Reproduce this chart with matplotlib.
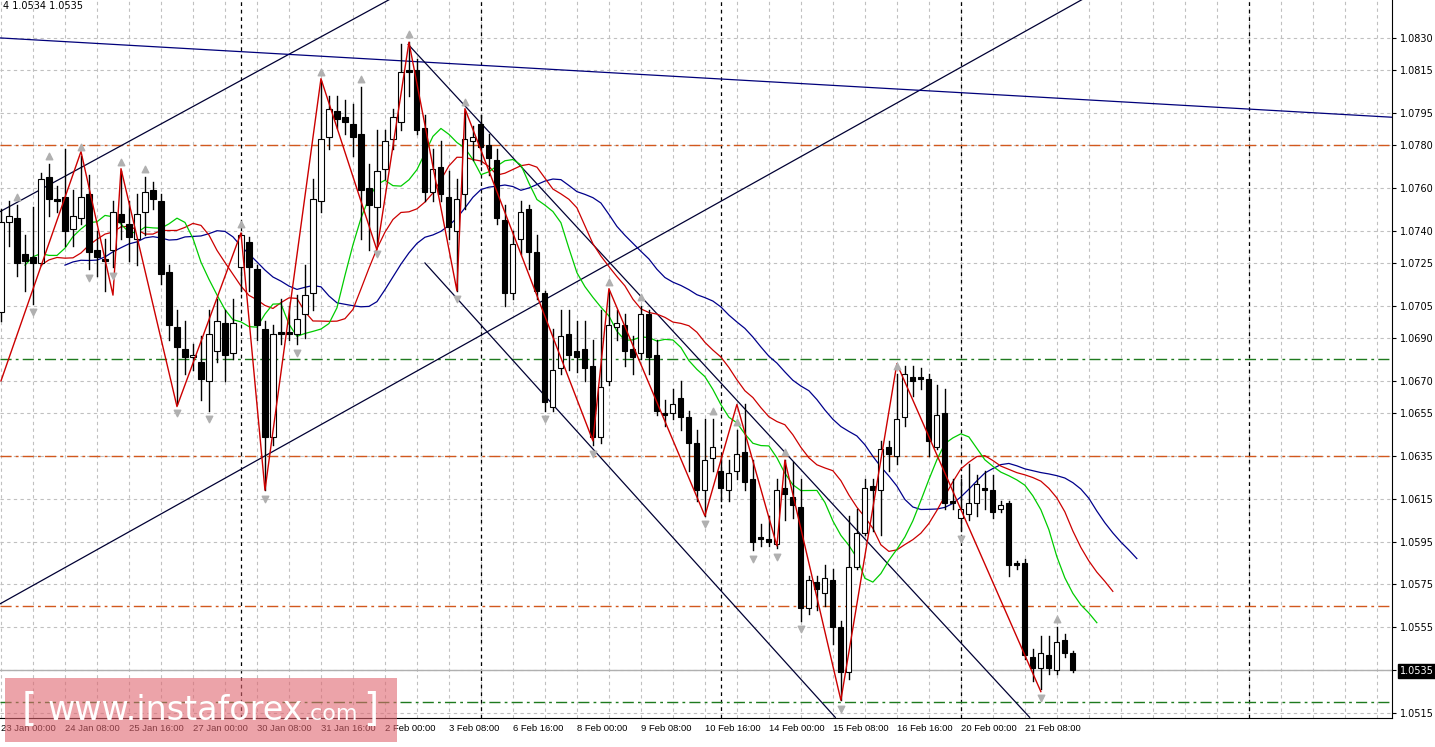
import numpy as np
import matplotlib
matplotlib.use("Agg")
import matplotlib.pyplot as plt
from matplotlib.patches import Rectangle

# EURUSD H4 candles (open, high, low, close), bar index = position
opens = [1.0702,1.0744,1.0746,1.0729,1.0728,1.0725,1.0765,1.0755,1.0756,1.0741,1.0746,1.0757,1.0731,1.0727,1.0731,1.0748,
         1.0743,1.0736,1.0749,1.0759,1.0754,1.0721,1.0695,1.0685,1.0681,1.0679,1.0670,1.0684,1.0697,1.0683,1.0723,1.0735,
         1.0722,1.0694,1.0644,1.0693,1.0693,1.0692,1.0701,1.0711,1.0754,1.0784,1.0796,1.0793,1.0790,1.0785,1.0760,1.0751,
         1.0769,1.0783,1.0791,1.0815,1.0815,1.0788,1.0758,1.0770,1.0756,1.0740,1.0757,1.0782,1.0790,1.0780,1.0773,1.0745,
         1.0711,1.0736,1.0750,1.0730,1.0711,1.0658,1.0676,1.0692,1.0684,1.0685,1.0677,1.0644,1.0670,1.0695,1.0696,1.0685,
         1.0683,1.0701,1.0682,1.0655,1.0655,1.0662,1.0653,1.0641,1.0619,1.0634,1.0628,1.0619,1.0628,1.0637,1.0624,1.0597,
         1.0596,1.0594,1.0620,1.0616,1.0611,1.0564,1.0576,1.0571,1.0577,1.0555,1.0534,1.0583,1.0599,1.0621,1.0619,1.0639,
         1.0635,1.0653,1.0672,1.0672,1.0671,1.0639,1.0655,1.0614,1.0606,1.0608,1.0613,1.0620,1.0619,1.0610,1.0613,1.0585,
         1.0585,1.0541,1.0536,1.0542,1.0535,1.0549,1.0543]
highs = [1.0750,1.0754,1.0752,1.0738,1.0751,1.0767,1.0771,1.0761,1.0778,1.0759,1.0775,1.0766,1.0740,1.0736,1.0754,1.0768,
         1.0754,1.0757,1.0765,1.0763,1.0757,1.0724,1.0703,1.0698,1.0687,1.0691,1.0703,1.0708,1.0703,1.0708,1.0739,1.0737,
         1.0724,1.0698,1.0696,1.0708,1.0705,1.0710,1.0724,1.0764,1.0810,1.0803,1.0803,1.0801,1.0799,1.0807,1.0771,1.0787,
         1.0787,1.0797,1.0827,1.0828,1.0820,1.0794,1.0778,1.0782,1.0768,1.0764,1.0796,1.0789,1.0794,1.0785,1.0778,1.0752,
         1.0740,1.0754,1.0752,1.0738,1.0712,1.0694,1.0703,1.0703,1.0698,1.0698,1.0689,1.0703,1.0712,1.0703,1.0701,1.0691,
         1.0705,1.0703,1.0689,1.0661,1.0666,1.0670,1.0656,1.0647,1.0652,1.0652,1.0635,1.0633,1.0647,1.0659,1.0633,1.0603,
         1.0607,1.0624,1.0633,1.0632,1.0624,1.0579,1.0579,1.0584,1.0582,1.0558,1.0607,1.0610,1.0624,1.0624,1.0642,1.0642,
         1.0673,1.0677,1.0677,1.0676,1.0673,1.0668,1.0666,1.0624,1.0624,1.0631,1.0626,1.0628,1.0626,1.0614,1.0614,1.0586,
         1.0587,1.0545,1.0551,1.0551,1.0555,1.0552,1.0544]
lows = [1.0698,1.0733,1.0719,1.0712,1.0706,1.0724,1.0747,1.0749,1.0733,1.0733,1.0743,1.0722,1.0719,1.0712,1.0723,1.0736,
        1.0726,1.0724,1.0738,1.0750,1.0715,1.0689,1.0659,1.0673,1.0675,1.0661,1.0656,1.0679,1.0670,1.0680,1.0712,1.0712,
        1.0689,1.0619,1.0640,1.0687,1.0689,1.0687,1.0690,1.0703,1.0749,1.0778,1.0788,1.0785,1.0775,1.0736,1.0731,1.0733,
        1.0764,1.0778,1.0787,1.0803,1.0785,1.0754,1.0754,1.0754,1.0736,1.0712,1.0750,1.0773,1.0771,1.0766,1.0743,1.0705,
        1.0708,1.0729,1.0722,1.0708,1.0656,1.0656,1.0673,1.0675,1.0674,1.0670,1.0640,1.0641,1.0668,1.0689,1.0677,1.0673,
        1.0680,1.0673,1.0654,1.0649,1.0652,1.0647,1.0628,1.0614,1.0607,1.0628,1.0614,1.0614,1.0624,1.0619,1.0591,1.0593,
        1.0593,1.0592,1.0605,1.0606,1.0558,1.0561,1.0563,1.0565,1.0547,1.0521,1.0531,1.0582,1.0598,1.0600,1.0598,1.0628,
        1.0631,1.0649,1.0663,1.0666,1.0635,1.0638,1.0610,1.0610,1.0600,1.0605,1.0607,1.0610,1.0606,1.0609,1.0579,1.0582,
        1.0540,1.0530,1.0526,1.0533,1.0533,1.0541,1.0534]
closes = [1.0744,1.0747,1.0725,1.0726,1.0725,1.0764,1.0755,1.0754,1.0740,1.0747,1.0756,1.0730,1.0728,1.0726,1.0749,1.0744,
          1.0737,1.0748,1.0758,1.0755,1.0720,1.0696,1.0686,1.0681,1.0682,1.0671,1.0692,1.0698,1.0682,1.0697,1.0738,1.0723,
          1.0696,1.0644,1.0692,1.0692,1.0692,1.0699,1.0710,1.0755,1.0783,1.0797,1.0792,1.0791,1.0784,1.0759,1.0752,1.0768,
          1.0782,1.0793,1.0814,1.0814,1.0787,1.0758,1.0769,1.0757,1.0742,1.0755,1.0783,1.0784,1.0779,1.0774,1.0746,1.0711,
          1.0734,1.0749,1.0730,1.0712,1.0660,1.0675,1.0691,1.0682,1.0681,1.0676,1.0644,1.0667,1.0696,1.0697,1.0684,1.0681,
          1.0701,1.0681,1.0656,1.0654,1.0659,1.0653,1.0641,1.0619,1.0633,1.0639,1.0620,1.0627,1.0636,1.0623,1.0595,1.0596,
          1.0595,1.0619,1.0617,1.0612,1.0564,1.0577,1.0573,1.0578,1.0555,1.0534,1.0583,1.0599,1.0620,1.0619,1.0638,1.0636,
          1.0652,1.0673,1.0670,1.0671,1.0642,1.0654,1.0613,1.0613,1.0610,1.0613,1.0622,1.0619,1.0609,1.0612,1.0584,1.0584,
          1.0542,1.0536,1.0543,1.0536,1.0548,1.0543,1.0535]

# zigzag pivots (bar, price)
zz_bars = [0, 10, 14, 15, 22, 30, 33, 40, 47, 51, 57, 58, 74, 76, 88, 92, 97, 98, 105, 112, 130]
zz_prices = [1.0670, 1.0777, 1.0710, 1.0769, 1.0658, 1.0739, 1.0619, 1.0811, 1.0731, 1.0828, 1.0712, 1.0797,
             1.0642, 1.0713, 1.0607, 1.0659, 1.0593, 1.0633, 1.0521, 1.0678, 1.0525]

# fractal arrows
up_bars = [2, 6, 10, 15, 18, 30, 40, 45, 51, 58, 76, 80, 89, 92, 98, 112, 132]
down_bars = [4, 11, 14, 22, 26, 33, 37, 47, 57, 68, 74, 88, 94, 97, 100, 105, 120, 130]

# trend lines ((bar0, price0), (bar1, price1))
trend_lines = [((-0.1, 1.0749), (48.6, 1.0848), "#000033"),
               ((-0.1, 1.0566), (135.2, 1.0848), "#000033"),
               ((-0.1, 1.0830), (173.9, 1.0793), "#00007a"),
               ((50.9, 1.0827), (128.6, 1.0513), "#000033"),
               ((53.0, 1.0725), (104.3, 1.0513), "#000033")]

orange_levels = [1.0780, 1.0635, 1.0565]
green_levels = [1.0680, 1.0520]
last_price = 1.0535

ytick_vals = [1.0830, 1.0815, 1.0795, 1.0780, 1.0760, 1.0740, 1.0725, 1.0705, 1.0690, 1.0670,
              1.0655, 1.0635, 1.0615, 1.0595, 1.0575, 1.0555, 1.0535, 1.0515]
date_labels = ["23 Jan 00:00", "24 Jan 08:00", "25 Jan 16:00", "27 Jan 00:00", "30 Jan 08:00", "31 Jan 16:00",
               "2 Feb 00:00", "3 Feb 08:00", "6 Feb 16:00", "8 Feb 00:00", "9 Feb 08:00", "10 Feb 16:00",
               "14 Feb 00:00", "15 Feb 08:00", "16 Feb 16:00", "20 Feb 00:00", "21 Feb 08:00"]
week_seps = [30, 60, 90, 120, 156]


def smma(vals, n):
    out = np.empty(len(vals))
    out[0] = vals[0]
    for i in range(1, len(vals)):
        out[i] = (out[i - 1] * (n - 1) + vals[i]) / n
    return out


o, h, l, c = map(np.array, (opens, highs, lows, closes))
n = len(c)
idx = np.arange(n)
med = (h + l) / 2

fig = plt.figure(figsize=(14.35, 7.47), dpi=100)
ax = fig.add_axes([0, 29 / 747, 1392 / 1435, 718 / 747])
ax.set_xlim(-0.125, 173.9)
ax.set_ylim(1.05127, 1.08477)

for v in ytick_vals:
    ax.axhline(v, color="#c0c0c0", lw=0.8, ls=(0, (3, 3)), zorder=0)
for b in range(0, 176, 4):
    ax.axvline(b, color="#c0c0c0", lw=0.8, ls=(0, (3, 3)), zorder=0)
for b in week_seps:
    ax.axvline(b, color="black", lw=0.9, ls=(0, (3, 3)), zorder=1)

for v in orange_levels:
    ax.axhline(v, color="#d2581e", lw=1, ls=(0, (8, 3, 2, 3)), zorder=1)
for v in green_levels:
    ax.axhline(v, color="#1e7a1e", lw=1, ls=(0, (8, 3, 2, 3)), zorder=1)
ax.axhline(last_price, color="#b0b0b0", lw=1, zorder=1)

for (x0, y0), (x1, y1), col in trend_lines:
    ax.plot([x0, x1], [y0, y1], color=col, lw=0.9, zorder=2)

# alligator
ax.plot(idx + 8, smma(med, 13), color="#00008b", lw=0.9, zorder=3)
ax.plot(idx + 5, smma(med, 8), color="#cc0000", lw=0.9, zorder=3)
ax.plot(idx + 3, smma(med, 5), color="#00cc00", lw=0.9, zorder=3)

# candles
for i in range(n):
    ax.plot([i, i], [l[i], h[i]], color="black", lw=1, zorder=4)
    lo, hi = min(o[i], c[i]), max(o[i], c[i])
    hgt = max(hi - lo, 0.00004)
    fc = "white" if c[i] >= o[i] else "black"
    ax.add_patch(Rectangle((i - 0.32, lo), 0.64, hgt, facecolor=fc, edgecolor="black", lw=0.8, zorder=5))

ax.plot(zz_bars, zz_prices, color="#cc0000", lw=1.0, zorder=6)

ax.scatter(up_bars, h[up_bars] + 0.0004, marker="^", s=22, color="#b0b0b0", zorder=6)
ax.scatter(down_bars, l[down_bars] - 0.0004, marker="v", s=22, color="#b0b0b0", zorder=6)

ax.yaxis.tick_right()
ax.set_yticks(ytick_vals)
ax.set_yticklabels([f"{v:.4f}" for v in ytick_vals], fontsize=7)
ax.tick_params(axis="y", length=3, pad=3)
for lab in ax.get_yticklabels():
    if lab.get_text() == f"{last_price:.4f}":
        lab.set_color("white")
        lab.set_bbox(dict(facecolor="black", edgecolor="black", pad=1.5))
ax.set_xticks(range(0, 8 * len(date_labels), 8))
ax.set_xticklabels(date_labels, fontsize=6.8, ha="left", family="Liberation Sans")
ax.tick_params(axis="x", length=0, pad=4)
for s in ("top", "left"):
    ax.spines[s].set_visible(False)

ax.text(0.002, 0.998, "4 1.0534 1.0535", transform=ax.transAxes, fontsize=7, va="top")

fig.patches.append(Rectangle((5 / 1435, 5 / 747), 392 / 1435, 64 / 747, transform=fig.transFigure,
                             facecolor="#e06670", alpha=0.6, edgecolor="none", zorder=10))
fig.text(22 / 1435, 37 / 747, "[", fontsize=28, color="white", va="center", zorder=11)
t = fig.text(48 / 1435, 37 / 747, "www.instaforex", fontsize=24, color="white", va="center", zorder=11)
fig.canvas.draw()
ext = t.get_window_extent()
t2 = fig.text(ext.x1 / 1435, 33 / 747, ".com", fontsize=16, color="white", va="center", zorder=11)
fig.canvas.draw()
ext2 = t2.get_window_extent()
fig.text((ext2.x1 + 5) / 1435, 37 / 747, "]", fontsize=28, color="white", va="center", zorder=11)

fig.savefig("out.png", dpi=100)
